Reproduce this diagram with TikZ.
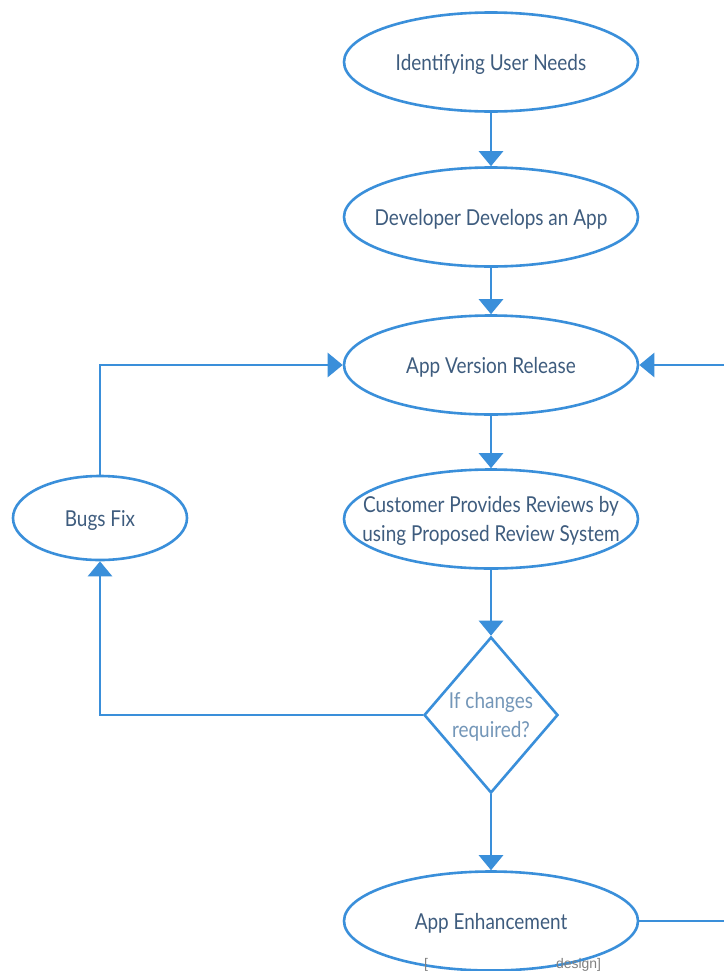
\documentclass[tikz,border=0pt]{standalone}
\usepackage{fontspec}
\setmainfont{Lato}[FakeStretch=0.865]
\newfontfamily\capfont{Liberation Sans}
\usetikzlibrary{shapes.geometric,arrows.meta}
\definecolor{flow}{HTML}{3A8FDA}
\definecolor{ink}{HTML}{3E5C7E}
\definecolor{inklight}{HTML}{7396B8}
\begin{document}
\begin{tikzpicture}[x=1bp,y=-1bp,
  ell/.style={draw=flow,line width=2.6bp,ellipse,minimum width=294bp,minimum height=99bp,inner sep=0pt,fill=white},
  lbl/.style={text=ink,font=\fontsize{22}{29}\selectfont,align=center,inner sep=0pt,yshift=-2bp},
  conn/.style={draw=flow,line width=2.7bp,-{Triangle[width=24bp,length=15bp]}},
  plainline/.style={draw=flow,line width=2.7bp}]
\useasboundingbox[fill=white] (0,0) rectangle (724,971);
\node[ell,label={[lbl]center:Identifying User Needs}] (n1) at (491,62) {};
\node[ell,label={[lbl]center:Developer Develops an App}] (n2) at (491,217) {};
\node[ell,label={[lbl]center:App Version Release}] (n3) at (491,365) {};
\node[ell,label={[lbl]center:{Customer Provides Reviews by\\using Proposed Review System}}] (n4) at (491,519) {};
\node[draw=flow,line width=2.6bp,diamond,minimum width=134bp,minimum height=156bp,inner sep=0pt,
  label={[lbl,text=inklight]center:{If changes\\required?}}] (d) at (491,715) {};
\node[ell,minimum width=174bp,minimum height=84bp,label={[lbl]center:Bugs Fix}] (bf) at (100,518) {};
\node[ell,label={[lbl]center:App Enhancement}] (n6) at (491,921) {};
\coordinate (rin) at (724,365);
\coordinate (rout) at (724,921);
\draw[conn] (n1) -- (n2);
\draw[conn] (n2) -- (n3);
\draw[conn] (n3) -- (n4);
\draw[conn] (n4) -- (d);
\draw[conn] (d) -- (n6);
\draw[conn] (bf.north) |- (n3.west);
\draw[conn] (d.west) -| (bf.south);
\draw[conn] (rin) -- (n3.east);
\draw[plainline] (n6.east) -- (rout);
\node[anchor=west,inner sep=0pt,text=gray,font=\capfont\fontsize{14}{14}\selectfont] (cap) at (424,965) {[\hspace*{128bp}design]};
\end{tikzpicture}
\end{document}
